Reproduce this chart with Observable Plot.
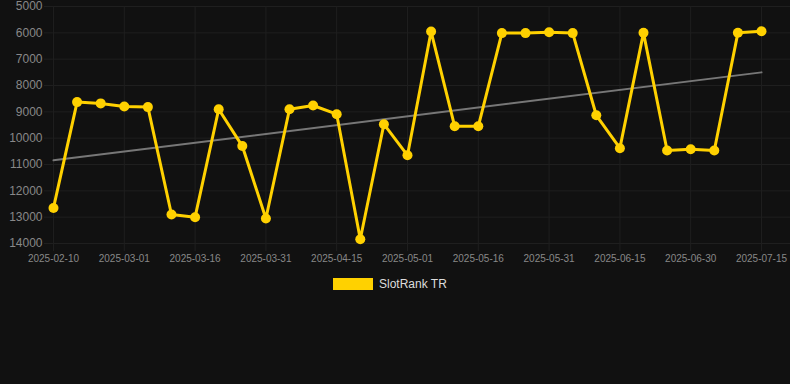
<!DOCTYPE html>
<html><head><meta charset="utf-8">
<script src="https://cdn.jsdelivr.net/npm/d3@7"></script>
<script src="https://cdn.jsdelivr.net/npm/@observablehq/plot@0.6"></script>
<style>
html,body{margin:0;padding:0;background:#111111;width:790px;height:384px;overflow:hidden;font-family:"Liberation Sans",Arial,sans-serif;}
#legend{position:relative;height:20px;margin-top:4px;}
#legend .sw{position:absolute;left:333px;top:4px;width:40px;height:12px;background:#FFD100;}
#legend .tx{position:absolute;left:379px;top:3px;font-size:12px;color:#dddddd;line-height:14px;}
</style></head><body>
<div id="chart"></div>
<div id="legend"><span class="sw"></span><span class="tx">SlotRank TR</span></div>
<script>
const seriesName = "SlotRank TR";
const dates = ["2025-02-10","2025-02-16","2025-02-22","2025-03-01","2025-03-06","2025-03-11","2025-03-16","2025-03-21","2025-03-26","2025-03-31","2025-04-05","2025-04-10","2025-04-15","2025-04-20","2025-04-25","2025-05-01","2025-05-06","2025-05-11","2025-05-16","2025-05-21","2025-05-26","2025-05-31","2025-06-05","2025-06-10","2025-06-15","2025-06-20","2025-06-25","2025-06-30","2025-07-05","2025-07-10","2025-07-15"];
const rank = [12650,8630,8680,8800,8820,12900,13000,8900,10300,13050,8900,8760,9090,13840,9470,10650,5950,9550,9550,6010,6010,5975,6010,9130,10380,6000,10470,10420,10470,6000,5940];
const yTicks = [5000,6000,7000,8000,9000,10000,11000,12000,13000,14000];
const xTickEvery = 3;

const rows = dates.map((d, i) => ({i, date: d, rank: rank[i]}));
const xTicks = d3.range(0, dates.length, xTickEvery);
const font = '"Liberation Sans", Arial, sans-serif';

const plot = Plot.plot({
  width: 790, height: 270,
  marginTop: 6, marginBottom: 27, marginLeft: 44, marginRight: 0,
  style: {background: "#111111", color: "#888888", fontFamily: font},
  x: {type: "linear", domain: [-0.381, 31.229]},
  y: {domain: [5000, 14000], reverse: true},
  marks: [
    Plot.gridY(yTicks, {stroke: "#1f1f1f", strokeOpacity: 1, strokeWidth: 1}),
    Plot.gridX(xTicks, {stroke: "#1f1f1f", strokeOpacity: 1, strokeWidth: 1}),
    Plot.axisY(yTicks, {tickSize: 0, tickPadding: 2, tickFormat: d => String(d), label: null, fontSize: 12, fill: "#888888"}),
    Plot.axisX(xTicks, {tickSize: 8, tickPadding: 3, tickFormat: i => dates[i], label: null, fontSize: 10, fill: "#888888", stroke: "#1f1f1f"}),
    Plot.linearRegressionY(rows, {x: "i", y: "rank", ci: 0, stroke: "#777777", strokeWidth: 2}),
    Plot.line(rows, {x: "i", y: "rank", stroke: "#FFD100", strokeWidth: 3, strokeLinejoin: "miter"}),
    Plot.dot(rows, {x: "i", y: "rank", r: 5, fill: "#FFD100", stroke: "none"})
  ]
});
document.getElementById("chart").appendChild(plot);
</script>
</body></html>
